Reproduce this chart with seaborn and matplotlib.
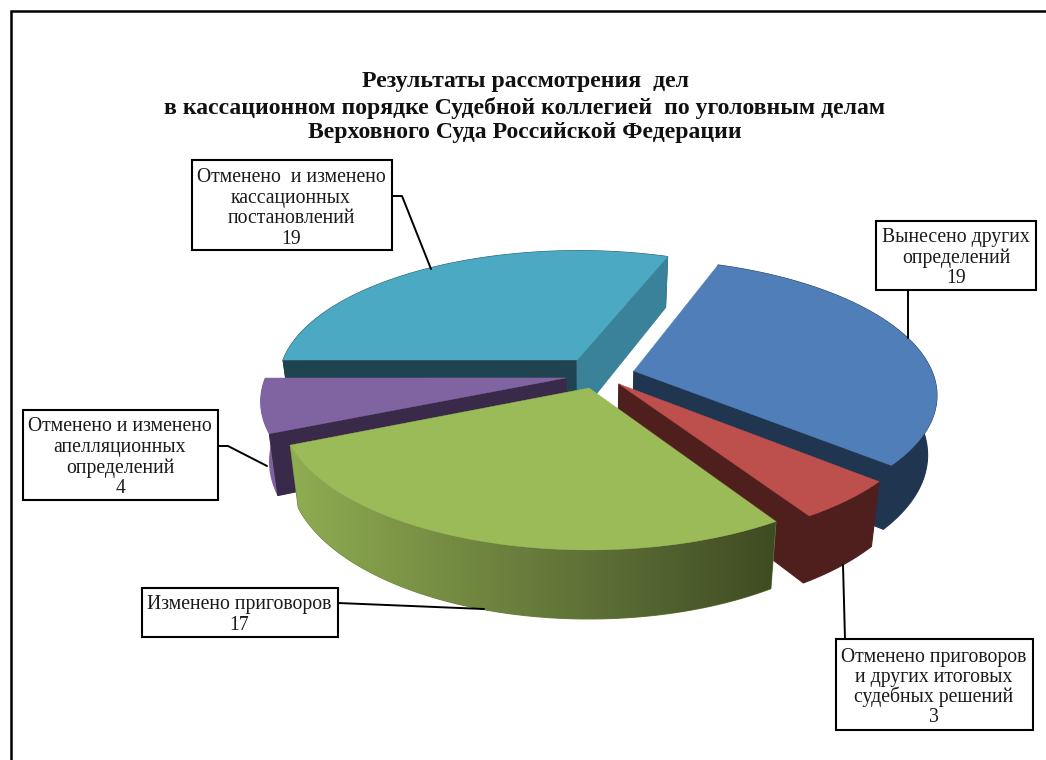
import numpy as np
import seaborn as sns
import matplotlib.pyplot as plt
from matplotlib.patches import Rectangle

# ----------------- data, clockwise from the blue slice -----------------
categories = ["Вынесено других определений",
              "Отменено приговоров и других итоговых судебных решений",
              "Изменено приговоров",
              "Отменено и изменено апелляционных определений",
              "Отменено и изменено кассационных постановлений"]
values = [19, 3, 17, 4, 19]

title_lines = ["Результаты рассмотрения  дел",
               "в кассационном порядке Судебной коллегией  по уголовным делам",
               "Верховного Суда Российской Федерации"]

label_lines = [["Вынесено других", "определений", "19"],
               ["Отменено приговоров", "и других итоговых", "судебных решений", "3"],
               ["Изменено приговоров", "17"],
               ["Отменено и изменено", "апелляционных", "определений", "4"],
               ["Отменено  и изменено", "кассационных", "постановлений", "19"]]

# ----------------- look of the slices -----------------
top_colors = ["#4F7EB9", "#BD4F4C", "#9BBB59", "#8064A2", "#4BA9C3"]
wall_colors = ["#1F3550", "#4F1F1E", "#6C823E", "#7E62A0", "#1F4450"]
green_fade = ["#8FAD52", "#748B42", "#5A6C35", "#3F4B22"]
start_face = ["#1F3550", "#4F1F1E", "#3F4D23", "#3A2A4A", "#1F4450"]
end_face = ["#1F3550", "#4F1F1E", "#3F4D23", "#3A2A4A", "#3A8299"]
explode = [(0.147, 0.0), (0.095, -0.098), (-0.003, -0.128), (-0.08, -0.053), (-0.044, 0.086)]
draw_order = [4, 3, 0, 1, 2]
start_angle = 20.3

# projection of the pie plane to pixels
cx, cy = 590, 371
persp = 0.16
top_r, top_k = 298, 130
bot_r, bot_k, bot_drop = 290, 138, 58

# box: x0, y0, x1, y1, text centre, first baseline, line step
boxes = [(876, 221, 1036, 290, 956, 242, 20.7),
         (836, 639, 1033, 730, 934, 662, 20),
         (142, 588, 338, 637, 239, 609, 21),
         (23, 410, 218, 500, 120, 431, 20.8),
         (192, 160, 392, 250, 291, 182, 20.6)]
leaders = [[(908, 290), (908, 338)],
           [(845, 639), (843, 565)],
           [(338, 603), (484, 609)],
           [(218, 446), (228, 446), (267, 466)],
           [(392, 196), (402, 196), (431, 269)]]


def project(X, Y, bottom=False):
    s = 1 / (1 + persp * Y)
    if bottom:
        return cx + bot_r * X * s, cy + bot_drop - bot_k * Y * s
    return cx + top_r * X * s, cy - top_k * Y * s


def rim(theta, ex, ey, bottom=False):
    rad = np.radians(theta)
    return project(ex + np.sin(rad), ey + np.cos(rad), bottom)


sns.set_theme(style="white")
plt.rcParams['font.family'] = ['Liberation Serif', 'DejaVu Serif']

fig = plt.figure(figsize=(10.46, 7.6), dpi=100)
ax = fig.add_axes([0, 0, 1, 1])

# outer frame, only left and top come into the picture
ax.plot([10.5, 10.5, 1046], [760, 11, 11], color="black", lw=1.8, solid_joinstyle="miter")

# ----------------- slices -----------------
ends = start_angle + np.cumsum(values) / sum(values) * 360
starts = np.r_[start_angle, ends[:-1]]
z = 1

for i in draw_order:
    t0, t1 = starts[i], ends[i]
    ex, ey = explode[i]
    thetas = np.arange(t0, t1 + 0.5, 1.0)
    thetas[-1] = t1

    # outer wall
    xt, yt = rim(thetas, ex, ey)
    xb, yb = rim(thetas, ex, ey, True)
    wall = ax.fill(np.r_[xt, xb[::-1]], np.r_[yt, yb[::-1]], color=wall_colors[i], lw=0.8, zorder=z)[0]
    z += 1
    if i == 2:
        # the green wall fades left to right
        fade = sns.blend_palette(green_fade, as_cmap=True)
        img = ax.imshow(np.linspace(0, 1, 256)[None, :], cmap=fade, aspect="auto",
                        extent=[xt.min(), xt.max(), yb.max(), yt.min()], zorder=z)
        img.set_clip_path(wall)
        z += 1

    # flat cut faces, only those turned to the viewer
    ax_top = project(ex, ey)
    ax_bot = project(ex, ey, True)
    if np.cos(np.radians(t0 - 90)) < 0:
        r_top, r_bot = rim(t0, ex, ey), rim(t0, ex, ey, True)
        ax.fill([ax_top[0], r_top[0], r_bot[0], ax_bot[0]], [ax_top[1], r_top[1], r_bot[1], ax_bot[1]],
                color=start_face[i], lw=0.8, zorder=z)
        z += 1
    if np.cos(np.radians(t1 + 90)) < 0:
        r_top, r_bot = rim(t1, ex, ey), rim(t1, ex, ey, True)
        ax.fill([ax_top[0], r_top[0], r_bot[0], ax_bot[0]], [ax_top[1], r_top[1], r_bot[1], ax_bot[1]],
                color=end_face[i], lw=0.8, zorder=z)
        z += 1

    # top of the slice
    ax.fill(np.r_[ax_top[0], xt], np.r_[ax_top[1], yt], color=top_colors[i], lw=0.3, zorder=z)
    z += 1

# ----------------- title -----------------
for y, line in zip([87, 114, 138], title_lines):
    ax.text(525, y, line, ha="center", va="baseline", fontsize=17.1, fontweight="bold",
            color="#111111", zorder=z)

# ----------------- label boxes and leaders -----------------
for i in range(len(values)):
    pts = np.array(leaders[i])
    ax.plot(pts[:, 0], pts[:, 1], color="black", lw=1.4, zorder=z)
    x0, y0, x1, y1, xc, yc, step = boxes[i]
    ax.add_patch(Rectangle((x0, y0), x1 - x0, y1 - y0, fc="white", ec="black", lw=1.5, zorder=z + 1))
    for k, line in enumerate(label_lines[i]):
        ax.text(xc, yc + k * step, line, ha="center", va="baseline", fontsize=14.2,
                color="#1a1a1a", zorder=z + 2)

ax.set_xlim(0, 1046)
ax.set_ylim(760, 0)
ax.axis("off")

fig.savefig("out.png", dpi=100)
